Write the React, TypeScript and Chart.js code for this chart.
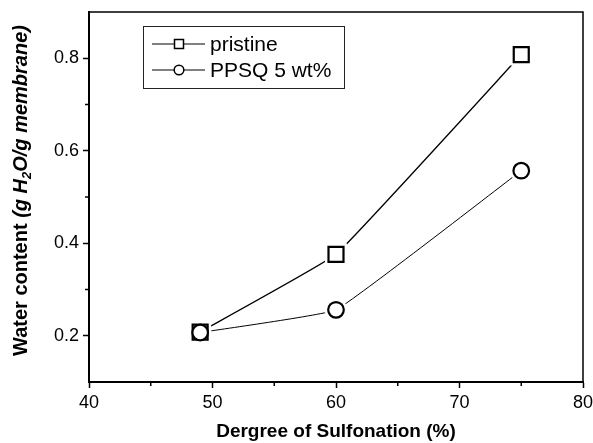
import React, { useEffect, useRef } from 'react';
import { Chart, registerables } from 'chart.js';

Chart.register(...registerables);

// ---- data ----
const sulfonation = [49, 60, 75];
const pristine = [0.208, 0.376, 0.808];
const ppsq = [0.207, 0.256, 0.557];
const seriesLabels = ['pristine', 'PPSQ 5 wt%'];
const xTicks = [40, 50, 60, 70, 80];
const yTicks = [0.2, 0.4, 0.6, 0.8];
const xMinorTicks = [45, 55, 65, 75];
const yMinorTicks = [0.3, 0.5, 0.7];
const xTitle = 'Dergree of Sulfonation (%)';
const yTitleParts = ['Water content ', '(g H', '2', 'O/g membrane)'];

const FONT = '"Liberation Sans", Arial, Helvetica, sans-serif';
const SQ_R = 10.6;
const CI_R = 7.8;

const toPts = (ys: number[]) => sulfonation.map((x, i) => ({ x, y: ys[i] }));

const decorPlugin = {
  id: 'decor',
  beforeDatasetsDraw(chart: any) {
    chart.$haloDone = false;
  },
  beforeDatasetDraw(chart: any, args: any) {
    const ds = chart.data.datasets[args.index];
    if (!ds.marker || chart.$haloDone) return;
    chart.$haloDone = true;
    const ctx = chart.ctx;
    ctx.save();
    ctx.fillStyle = '#fff';
    chart.data.datasets.forEach((d: any, i: number) => {
      if (!d.marker) return;
      const meta = chart.getDatasetMeta(i);
      meta.data.forEach((el: any) => {
        ctx.beginPath();
        if (d.marker === 'rect') {
          const h = SQ_R * Math.SQRT1_2 + 3.5;
          ctx.rect(el.x - h, el.y - h, 2 * h, 2 * h);
        } else {
          ctx.arc(el.x, el.y, CI_R + 3.5, 0, Math.PI * 2);
        }
        ctx.fill();
      });
    });
    ctx.restore();
  },
  afterDraw(chart: any) {
    const ctx = chart.ctx;
    const { left, right, top, bottom } = chart.chartArea;
    const xs = chart.scales.x;
    const ys = chart.scales.y;
    ctx.save();
    // top & right frame
    ctx.strokeStyle = '#000';
    ctx.lineWidth = 1.5;
    ctx.beginPath();
    ctx.moveTo(left, top);
    ctx.lineTo(right, top);
    ctx.lineTo(right, bottom);
    ctx.stroke();
    // minor ticks
    ctx.lineWidth = 1.5;
    ctx.beginPath();
    xMinorTicks.forEach((v) => {
      const px = xs.getPixelForValue(v);
      ctx.moveTo(px, bottom);
      ctx.lineTo(px, bottom + 4);
    });
    yMinorTicks.forEach((v) => {
      const py = ys.getPixelForValue(v);
      ctx.moveTo(left, py);
      ctx.lineTo(left - 4, py);
    });
    ctx.stroke();

    // legend
    const bx = 143, by = 26, bw = 201, bh = 62;
    ctx.lineWidth = 1;
    ctx.strokeStyle = '#222';
    ctx.fillStyle = '#fff';
    ctx.fillRect(bx, by, bw, bh);
    ctx.strokeRect(bx + 0.5, by + 0.5, bw, bh);
    const rows = [44, 70];
    const styles = ['rect', 'circle'];
    rows.forEach((ry, i) => {
      ctx.strokeStyle = '#000';
      ctx.lineWidth = 1;
      ctx.beginPath();
      ctx.moveTo(152, ry);
      ctx.lineTo(205, ry);
      ctx.stroke();
      ctx.lineWidth = 1.5;
      ctx.fillStyle = '#fff';
      ctx.beginPath();
      if (styles[i] === 'rect') ctx.rect(179 - 4.5, ry - 4.5, 9, 9);
      else ctx.arc(179, ry, 4.8, 0, Math.PI * 2);
      ctx.fill();
      ctx.stroke();
      ctx.fillStyle = '#000';
      ctx.font = `21px ${FONT}`;
      ctx.textAlign = 'left';
      ctx.textBaseline = 'middle';
      ctx.fillText(seriesLabels[i], 210, ry + 1);
    });

    // x title
    ctx.fillStyle = '#000';
    ctx.font = `bold 19px ${FONT}`;
    ctx.textAlign = 'center';
    ctx.textBaseline = 'alphabetic';
    ctx.fillText(xTitle, (left + right) / 2, 437);

    // y title (rotated, mixed styles)
    ctx.translate(27, 356);
    ctx.rotate(-Math.PI / 2);
    ctx.textAlign = 'left';
    ctx.textBaseline = 'alphabetic';
    let cx = 0;
    const runs = [
      { t: yTitleParts[0], f: `bold 20px ${FONT}`, dy: 0 },
      { t: yTitleParts[1], f: `italic bold 20px ${FONT}`, dy: 0 },
      { t: yTitleParts[2], f: `italic bold 13px ${FONT}`, dy: 4 },
      { t: yTitleParts[3], f: `italic bold 20px ${FONT}`, dy: 0 },
    ];
    runs.forEach((r) => {
      ctx.font = r.f;
      ctx.fillText(r.t, cx, r.dy);
      cx += ctx.measureText(r.t).width;
    });
    ctx.restore();
  },
};

export default function App() {
  const ref = useRef<HTMLCanvasElement | null>(null);
  useEffect(() => {
    document.body.style.margin = '0';
    const canvas = ref.current;
    if (!canvas) return;
    const tickFont = { family: FONT, size: 18 };
    const chart = new Chart(canvas, {
      type: 'line',
      data: {
        datasets: [
          {
            label: 'pristine-line',
            data: toPts(pristine),
            borderColor: '#000',
            borderWidth: 1.3,
            pointRadius: 0,
            tension: 0.08,
            fill: false,
            order: 3,
          },
          {
            label: 'ppsq-line',
            data: toPts(ppsq),
            borderColor: '#000',
            borderWidth: 1,
            pointRadius: 0,
            tension: 0.08,
            fill: false,
            order: 2,
          },
          {
            label: seriesLabels[0],
            data: toPts(pristine),
            showLine: false,
            pointStyle: 'rect',
            pointRadius: SQ_R,
            pointBorderWidth: 2.2,
            pointBackgroundColor: '#fff',
            pointBorderColor: '#000',
            order: 1,
            marker: 'rect',
          } as any,
          {
            label: seriesLabels[1],
            data: toPts(ppsq),
            showLine: false,
            pointStyle: 'circle',
            pointRadius: CI_R,
            pointBorderWidth: 2.2,
            pointBackgroundColor: '#fff',
            pointBorderColor: '#000',
            order: 0,
            marker: 'circle',
          } as any,
        ],
      },
      options: {
        responsive: false,
        animation: false,
        layout: { autoPadding: false, padding: { top: 12, right: 10, bottom: 0, left: 0 } },
        plugins: { legend: { display: false }, tooltip: { enabled: false } },
        scales: {
          x: {
            type: 'linear',
            min: 40,
            max: 80,
            afterBuildTicks: (s: any) => {
              s.ticks = xTicks.map((v) => ({ value: v }));
            },
            afterFit: (s: any) => {
              s.height = 61;
              s.paddingLeft = 0;
              s.paddingRight = 0;
            },
            border: { color: '#000', width: 2 },
            grid: { drawOnChartArea: false, tickLength: 6, color: '#000', tickWidth: 1.5 },
            ticks: {
              color: '#000',
              font: tickFont,
              padding: 4,
              maxRotation: 0,
              autoSkip: false,
              callback: (v: any) => String(v),
            },
          },
          y: {
            type: 'linear',
            min: 0.1,
            max: 0.9,
            afterBuildTicks: (s: any) => {
              s.ticks = yTicks.map((v) => ({ value: v }));
            },
            afterFit: (s: any) => {
              s.width = 89;
              s.paddingTop = 0;
              s.paddingBottom = 0;
            },
            border: { color: '#000', width: 2 },
            grid: { drawOnChartArea: false, tickLength: 6, color: '#000', tickWidth: 1.5 },
            ticks: {
              color: '#000',
              font: tickFont,
              padding: 4,
              autoSkip: false,
              callback: (v: any) => Number(v).toFixed(1),
            },
          },
        },
      },
      plugins: [decorPlugin],
    } as any);
    return () => chart.destroy();
  }, []);
  return (
    <div style={{ width: 593, height: 443 }}>
      <canvas ref={ref} width={593} height={443} style={{ display: 'block' }} />
    </div>
  );
}
